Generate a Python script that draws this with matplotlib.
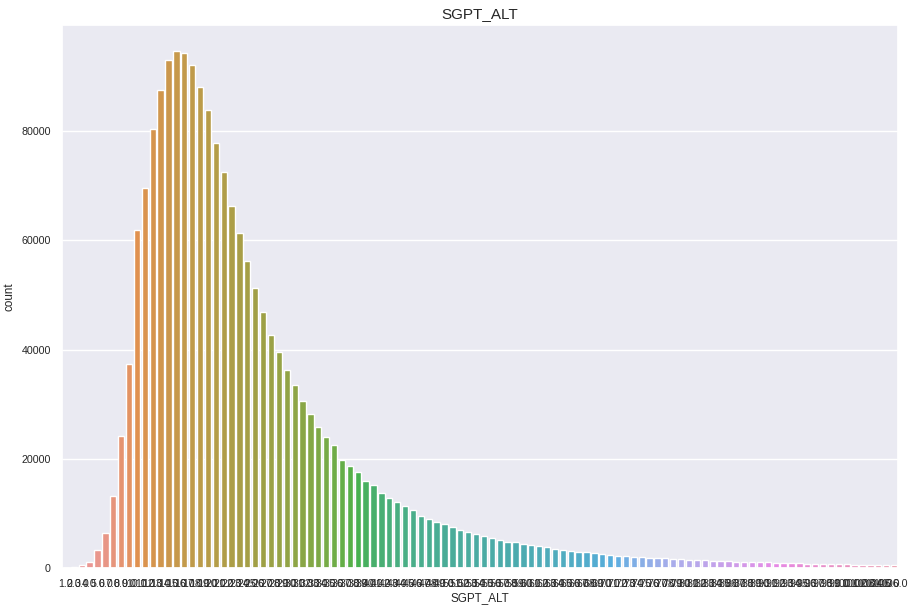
import numpy as np
import matplotlib
matplotlib.use("Agg")
import matplotlib.pyplot as plt
import seaborn as sns

# categories: SGPT_ALT values 1.0 .. 106.0
categories = [f"{v:.1f}" for v in range(1, 107)]

# counts
counts = [
    30, 120, 480, 1160, 3330, 6430, 13240, 24210, 37410, 61950,
    69640, 80480, 87610, 93130, 94740, 94430, 92080, 88170, 83830, 77940,
    72550, 66350, 61390, 56250, 51290, 46890, 42680, 39580, 36300, 33510,
    30550, 28200, 25780, 23950, 22490, 19760, 18660, 17570, 15930, 15200,
    13740, 12830, 12100, 11370, 10640, 9540, 9000, 8390, 8080, 7540,
    6990, 6630, 6260, 5900, 5530, 5170, 4800, 4750, 4440, 4130,
    3950, 3900, 3530, 3340, 3160, 2980, 2950, 2800, 2620, 2440,
    2260, 2240, 2080, 2060, 1900, 1890, 1880, 1710, 1700, 1530,
    1520, 1510, 1350, 1340, 1330, 1160, 1150, 1140, 1130, 1120,
    980, 970, 960, 950, 800, 790, 780, 770, 760, 750,
    610, 600, 600, 590, 590, 580,
]

sns.set_theme(style="darkgrid")
plt.rcParams['font.family'] = ['Liberation Sans', 'DejaVu Sans']

# husl palette like old seaborn countplot, desaturated
colors = sns.husl_palette(len(categories), l=.7)
colors = [sns.desaturate(c, .75) for c in colors]

fig = plt.figure(figsize=(9.15, 6.08), dpi=100)
ax = fig.add_axes([62 / 915, 1 - 568 / 608, 836 / 915, 543 / 608])

x = np.arange(len(categories))
ax.bar(x, counts, width=0.8, color=colors, edgecolor='white', linewidth=1)
ax.set_xlim(-0.5, len(categories) - 0.5)
ax.set_ylim(0, max(counts) * 1.05)
ax.set_xticks(x)
ax.set_xticklabels(categories)
ax.xaxis.grid(False)
ax.tick_params(axis='both', labelsize=7.7, pad=2)
ax.set_yticks([0, 20000, 40000, 60000, 80000])
ax.set_xlabel("SGPT_ALT", fontsize=8.4, labelpad=2)
ax.set_ylabel("count", fontsize=8.4)
ax.set_title("SGPT_ALT", fontsize=11, pad=5)

fig.savefig("out.png", dpi=100)
